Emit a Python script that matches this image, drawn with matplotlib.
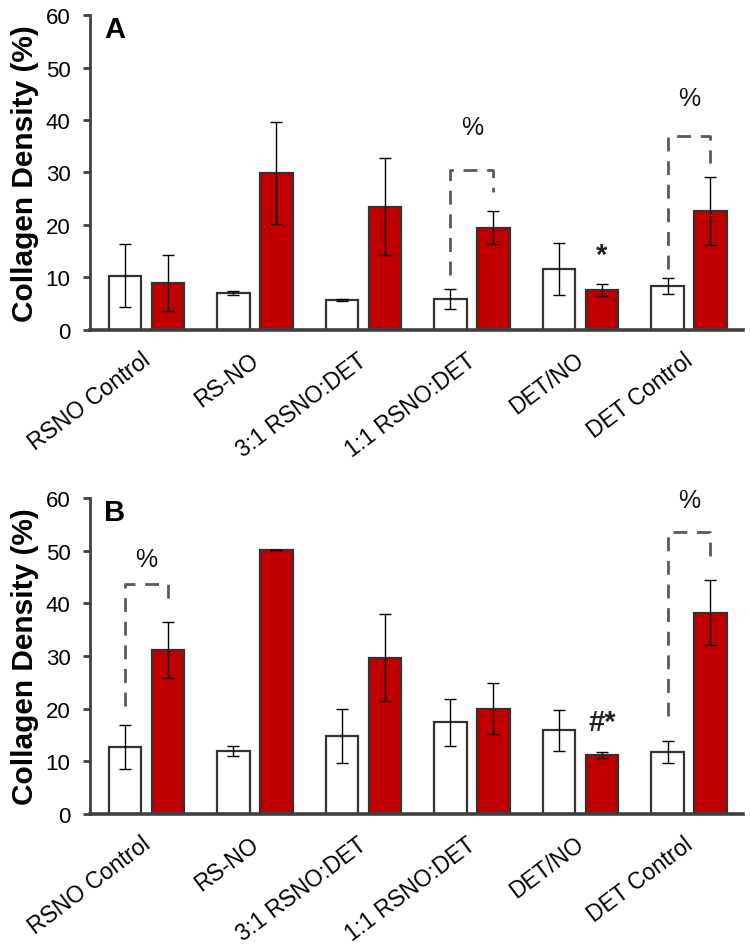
import matplotlib
matplotlib.use("Agg")
import matplotlib.pyplot as plt
import matplotlib.transforms as mtransforms
import numpy as np

plt.rcParams['font.family'] = ['Liberation Sans', 'DejaVu Sans']

categories = ["RSNO Control", "RS-NO", "3:1 RSNO:DET", "1:1 RSNO:DET", "DET/NO", "DET Control"]

# Panel A
a_white = [10.3, 7.0, 5.7, 5.9, 11.6, 8.4]
a_white_err = [6.0, 0.4, 0.2, 1.9, 5.0, 1.5]
a_red = [9.0, 29.9, 23.5, 19.5, 7.6, 22.7]
a_red_err = [5.3, 9.7, 9.3, 3.2, 1.2, 6.5]

# Panel B
b_white = [12.7, 12.0, 14.8, 17.4, 15.9, 11.7]
b_white_err = [4.2, 1.0, 5.2, 4.5, 3.9, 2.1]
b_red = [31.2, 50.1, 29.7, 20.0, 11.2, 38.2]
b_red_err = [5.3, 0.0, 8.2, 4.9, 0.6, 6.2]

# significance brackets: (group, left bottom, top, right bottom, label y)
a_brackets = [(3, 10.5, 30.5, 26.2, 38.6), (5, 11.6, 37.0, 31.9, 44.1)]
b_brackets = [(0, 20.6, 43.6, 39.6, 48.5), (5, 18.7, 53.5, 49.0, 59.6)]
a_marks = [(4, 14.2, "*")]
b_marks = [(4, 17.4, "#*")]

fig = plt.figure(figsize=(7.5, 9.53), dpi=100)
axA = fig.add_axes([0.12, 0.6527, 0.871, 0.3305])
axB = fig.add_axes([0.12, 0.1448, 0.871, 0.3316])

red = "#C00000"
edge = "#333333"
bw = 0.30
off = 0.198


def draw(ax, white, werr, redv, rerr, brackets, marks, letter):
    x = np.arange(len(categories))
    ax.bar(x - off, white, bw, color="white", edgecolor=edge, linewidth=1.6, zorder=2)
    ax.bar(x + off, redv, bw, color=red, edgecolor=edge, linewidth=1.6, zorder=2)
    ax.errorbar(x - off, white, yerr=werr, fmt="none", ecolor="black", elinewidth=1.0,
                capsize=4, capthick=1.0, zorder=3)
    ax.errorbar(x + off, redv, yerr=rerr, fmt="none", ecolor="black", elinewidth=1.0,
                capsize=4, capthick=1.0, zorder=3)
    for g, lb, top, rb, ly in brackets:
        ax.plot([g - off, g - off, g + off, g + off], [lb, top, top, rb],
                color="#595959", linestyle=(0, (5, 3.5)), linewidth=2.0, zorder=1)
        ax.text(g, ly, "%", ha="center", va="center", fontsize=18, color="#111111")
    for g, y, s in marks:
        ax.text(g + off, y, s, ha="center", va="center", fontsize=21, fontweight="bold",
                color="#222222")
    ax.set_xlim(-0.52, 5.5)
    ax.set_ylim(0, 60)
    ax.set_yticks([0, 10, 20, 30, 40, 50, 60])
    ax.tick_params(axis="y", labelsize=16, length=5, width=2, color="#404040", pad=9)
    ax.set_xticks(x)
    ax.set_xticklabels(categories, rotation=37, ha="right", rotation_mode="anchor",
                       fontsize=16.5)
    ax.tick_params(axis="x", length=0, pad=13)
    shift = mtransforms.ScaledTranslation(-6 / 100, 0, fig.dpi_scale_trans)
    for lbl in ax.get_xticklabels():
        lbl.set_transform(lbl.get_transform() + shift)
    for s in ["top", "right"]:
        ax.spines[s].set_visible(False)
    ax.spines["left"].set_linewidth(2.0)
    ax.spines["left"].set_color("#404040")
    ax.spines["bottom"].set_linewidth(2.6)
    ax.spines["bottom"].set_color("#404040")
    ax.set_ylabel("Collagen Density (%)", fontsize=21.5, fontweight="bold", labelpad=5)
    ax.text(0.022, 1.0, letter, transform=ax.transAxes, ha="left", va="top",
            fontsize=21, fontweight="bold")


draw(axA, a_white, a_white_err, a_red, a_red_err, a_brackets, a_marks, "A")
draw(axB, b_white, b_white_err, b_red, b_red_err, b_brackets, b_marks, "B")

fig.savefig("out.png", dpi=100)
